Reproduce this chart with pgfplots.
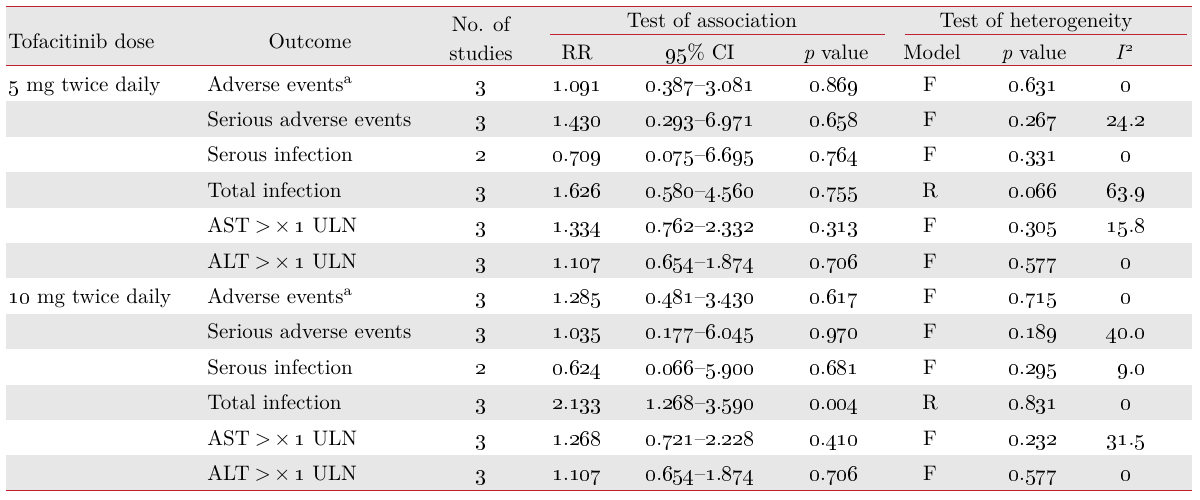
\documentclass[border=0pt]{standalone}
\usepackage{pgfplots}
\pgfplotsset{compat=1.18}
\definecolor{tred}{RGB}{192,32,48}
\definecolor{rowgray}{RGB}{231,231,231}
\newcommand\os[1]{\oldstylenums{#1}}
\newcommand\N[2]{\oldstylenums{#1}.\oldstylenums{#2}}
\newcommand\CI[4]{\N{#1}{#2}--\N{#3}{#4}}
\newcommand\ULN[1]{#1\kern2.5pt>\kern1.5pt×\kern2pt\os{1} ULN}
% row index, outcome, n, RR, CI, p, model, p(het), I^2
\newcommand\rowtxt[9]{%
  \node[anchor=base west] at (axis cs:207,{66+(#1-0.5)*35.4+7.3}) {#2};
  \node[anchor=base] at (axis cs:481,{66+(#1-0.5)*35.4+7.3}) {#3};
  \node[anchor=base] at (axis cs:577,{66+(#1-0.5)*35.4+7.3}) {#4};
  \node[anchor=base] at (axis cs:700,{66+(#1-0.5)*35.4+7.3}) {#5};
  \node[anchor=base] at (axis cs:834,{66+(#1-0.5)*35.4+7.3}) {#6};
  \node[anchor=base] at (axis cs:930,{66+(#1-0.5)*35.4+7.3}) {#7};
  \node[anchor=base] at (axis cs:1033,{66+(#1-0.5)*35.4+7.3}) {#8};
  \node[anchor=base] at (axis cs:1126,{66+(#1-0.5)*35.4+7.3}) {#9};
}
\newcommand\grayrow[1]{%
  \fill[rowgray] (axis cs:6,{66+(#1-1)*35.4}) rectangle (axis cs:1192,{66+#1*35.4});
}
\begin{document}
\begin{tikzpicture}[every node/.style={font=\fontsize{10.5}{12.6}\selectfont, inner sep=0pt, text=black}]
\begin{axis}[
  scale only axis, width=600pt, height=249.5pt,
  xmin=0, xmax=1200, ymin=0, ymax=499, y dir=reverse,
  hide axis, clip=false,
]
\path (axis cs:0,0) rectangle (axis cs:1200,499);
% header band and shaded rows
\fill[rowgray] (axis cs:6,6.5) rectangle (axis cs:1192,65.5);
\grayrow{2}\grayrow{4}\grayrow{6}\grayrow{8}\grayrow{10}\grayrow{12}
% rules
\draw[tred, line width=0.9pt] (axis cs:6,6.5) -- (axis cs:1192,6.5);
\draw[tred, line width=0.9pt] (axis cs:550,34.5) -- (axis cs:885,34.5);
\draw[tred, line width=0.9pt] (axis cs:905,34.5) -- (axis cs:1187,34.5);
\draw[tred, line width=0.9pt] (axis cs:6,65.5) -- (axis cs:1192,65.5);
\draw[tred, line width=0.9pt] (axis cs:6,490.5) -- (axis cs:1192,490.5);
% header text
\node[anchor=base west] at (axis cs:8,48.5) {Tofacitinib dose};
\node[anchor=base] at (axis cs:310,48.5) {Outcome};
\node[anchor=base] at (axis cs:481,31.5) {No. of};
\node[anchor=base] at (axis cs:481,60) {studies};
\node[anchor=base] at (axis cs:712,27.5) {Test of association};
\node[anchor=base] at (axis cs:1036,27.5) {Test of heterogeneity};
\node[anchor=base] at (axis cs:577,59) {RR};
\node[anchor=base] at (axis cs:700,59) {\os{95}\% CI};
\node[anchor=base] at (axis cs:836,59) {\textit{p} value};
\node[anchor=base] at (axis cs:932,59) {Model};
\node[anchor=base] at (axis cs:1034,59) {\textit{p} value};
\node[anchor=base] at (axis cs:1125,59) {\textit{I}\textsuperscript{\os{2}}};
% dose labels
\node[anchor=base west] at (axis cs:8,{66+0.5*35.4+7.3}) {\os{5} mg twice daily};
\node[anchor=base west] at (axis cs:8,{66+6.5*35.4+7.3}) {\os{10} mg twice daily};
% rows
\rowtxt{1}{Adverse events\textsuperscript{a}}{\os{3}}{\N{1}{091}}{\CI{0}{387}{3}{081}}{\N{0}{869}}{F}{\N{0}{631}}{\os{0}}
\rowtxt{2}{Serious adverse events}{\os{3}}{\N{1}{430}}{\CI{0}{293}{6}{971}}{\N{0}{658}}{F}{\N{0}{267}}{\N{24}{2}}
\rowtxt{3}{Serous infection}{\os{2}}{\N{0}{709}}{\CI{0}{075}{6}{695}}{\N{0}{764}}{F}{\N{0}{331}}{\os{0}}
\rowtxt{4}{Total infection}{\os{3}}{\N{1}{626}}{\CI{0}{580}{4}{560}}{\N{0}{755}}{R}{\N{0}{066}}{\N{63}{9}}
\rowtxt{5}{\ULN{AST}}{\os{3}}{\N{1}{334}}{\CI{0}{762}{2}{332}}{\N{0}{313}}{F}{\N{0}{305}}{\N{15}{8}}
\rowtxt{6}{\ULN{ALT}}{\os{3}}{\N{1}{107}}{\CI{0}{654}{1}{874}}{\N{0}{706}}{F}{\N{0}{577}}{\os{0}}
\rowtxt{7}{Adverse events\textsuperscript{a}}{\os{3}}{\N{1}{285}}{\CI{0}{481}{3}{430}}{\N{0}{617}}{F}{\N{0}{715}}{\os{0}}
\rowtxt{8}{Serious adverse events}{\os{3}}{\N{1}{035}}{\CI{0}{177}{6}{045}}{\N{0}{970}}{F}{\N{0}{189}}{\N{40}{0}}
\rowtxt{9}{Serous infection}{\os{2}}{\N{0}{624}}{\CI{0}{066}{5}{900}}{\N{0}{681}}{F}{\N{0}{295}}{\phantom{\os{0}}\N{9}{0}}
\rowtxt{10}{Total infection}{\os{3}}{\N{2}{133}}{\CI{1}{268}{3}{590}}{\N{0}{004}}{R}{\N{0}{831}}{\os{0}}
\rowtxt{11}{\ULN{AST}}{\os{3}}{\N{1}{268}}{\CI{0}{721}{2}{228}}{\N{0}{410}}{F}{\N{0}{232}}{\N{31}{5}}
\rowtxt{12}{\ULN{ALT}}{\os{3}}{\N{1}{107}}{\CI{0}{654}{1}{874}}{\N{0}{706}}{F}{\N{0}{577}}{\os{0}}
\end{axis}
\end{tikzpicture}
\end{document}
